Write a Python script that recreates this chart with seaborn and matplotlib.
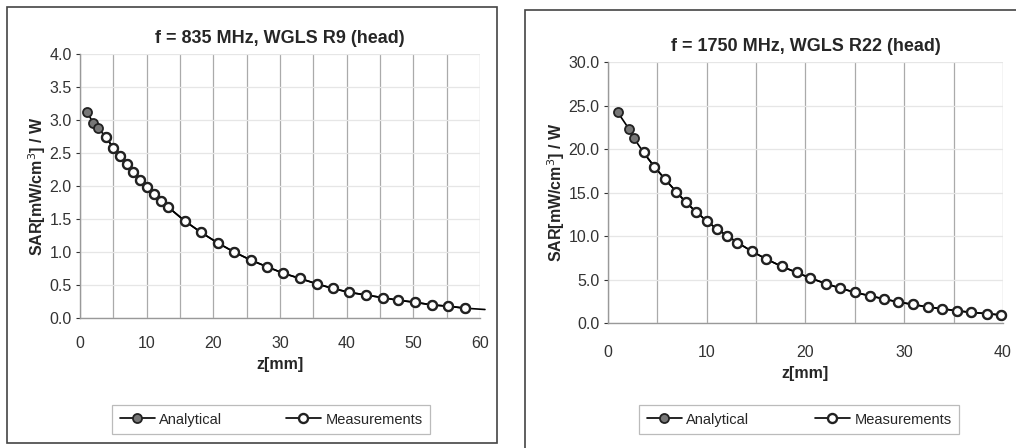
import seaborn as sns
import matplotlib.pyplot as plt
from matplotlib.patches import Rectangle

# Left panel: f = 835 MHz, WGLS R9 (head)
z_835 = [1, 2, 2.75, 3.9, 5, 6, 7, 8, 9, 10, 11.1, 12.1, 13.25, 15.75, 18.15, 20.65,
         23.15, 25.6, 28, 30.5, 33, 35.5, 37.9, 40.4, 42.9, 45.4, 47.75, 50.25, 52.75,
         55.25, 57.75, 60.75]
analytical_835 = [3.13, 2.96, 2.88, 2.74, 2.58, 2.46, 2.34, 2.22, 2.10, 1.98, 1.88, 1.78,
                  1.68, 1.47, 1.30, 1.14, 1.00, 0.88, 0.78, 0.68, 0.60, 0.52, 0.45, 0.39,
                  0.35, 0.31, 0.27, 0.24, 0.20, 0.18, 0.15, 0.13]
meas_z_835 = z_835[3:31]
meas_835 = analytical_835[3:31]

# Right panel: f = 1750 MHz, WGLS R22 (head)
z_1750 = [1.0, 2.1, 2.6, 3.6, 4.7, 5.8, 6.9, 7.9, 8.9, 10.0, 11.05, 12.06, 13.1, 14.6,
          16.05, 17.6, 19.1, 20.5, 22.1, 23.5, 25.0, 26.5, 28.0, 29.4, 30.85, 32.4, 33.8,
          35.3, 36.8, 38.4, 39.8]
analytical_1750 = [24.2, 22.35, 21.3, 19.6, 17.96, 16.5, 15.1, 13.87, 12.8, 11.73, 10.78,
                   10.05, 9.25, 8.22, 7.34, 6.5, 5.81, 5.16, 4.51, 4.01, 3.52, 3.13, 2.75,
                   2.41, 2.14, 1.83, 1.64, 1.41, 1.22, 1.07, 0.92]
meas_z_1750 = z_1750[3:]
meas_1750 = analytical_1750[3:]

sns.set_theme(style="white")
plt.rcParams['font.family'] = ['Liberation Sans', 'DejaVu Sans']

fig = plt.figure(figsize=(10.16, 4.48), dpi=100)
ax1 = fig.add_axes([0.0787, 0.290, 0.3937, 0.589])
ax2 = fig.add_axes([0.5984, 0.279, 0.3888, 0.5826])

panels = [
    (ax1, z_835, analytical_835, meas_z_835, meas_835, 'f = 835 MHz, WGLS R9 (head)',
     (0, 60), 4.0, 0.5, 31, 10),
    (ax2, z_1750, analytical_1750, meas_z_1750, meas_1750, 'f = 1750 MHz, WGLS R22 (head)',
     (0, 40), 30.0, 5.0, 31, 13),
]

for ax, z, ana, mz, mv, title, xl, ymax, ystep, nmark, xpad in panels:
    sns.lineplot(x=z, y=ana, ax=ax, color='black', lw=1.2, marker='o', markersize=6.5,
                 markerfacecolor='#777777', markeredgecolor='#222222', markeredgewidth=1.3,
                 markevery=list(range(nmark)), label='Analytical', clip_on=False)
    sns.lineplot(x=mz, y=mv, ax=ax, color='black', lw=1.2, marker='o', markersize=6.5,
                 markerfacecolor='white', markeredgecolor='#222222', markeredgewidth=1.7,
                 label='Measurements', clip_on=False)
    ax.set_xlim(*xl)
    ax.set_ylim(0, ymax)
    ax.set_xticks(range(xl[0], xl[1] + 1, 10))
    ax.set_xticks(range(5, xl[1] + 1, 10), minor=True)
    n = int(round(ymax / ystep))
    ax.set_yticks([i * ystep for i in range(n + 1)])
    ax.yaxis.set_major_formatter(plt.FormatStrFormatter('%.1f'))
    ax.grid(True, which='both', axis='x', color='#aaaaaa', lw=0.9)
    ax.grid(True, which='major', axis='y', color='#e6e6e6', lw=0.9)
    for s in ['top', 'right']:
        ax.spines[s].set_visible(False)
    for s in ['left', 'bottom']:
        ax.spines[s].set_color('#999999')
        ax.spines[s].set_linewidth(1.0)
    ax.tick_params(axis='both', labelsize=11.5, colors='#333333', length=3, width=0.8,
                   direction='out', left=True, bottom=False, pad=3)
    ax.tick_params(axis='x', pad=xpad)
    ax.set_title(title, fontsize=13, fontweight='bold', pad=8)
    ax.set_xlabel('z[mm]', fontsize=11.5, fontweight='bold', labelpad=4)
    ax.set_ylabel('SAR[mW/cm$^3$] / W', fontsize=11.5, fontweight='bold', labelpad=1)
    ax.legend().remove()

# legends below each panel
for ax, x0, w in [(ax1, 105 / 1016, 332 / 1016), (ax2, 632 / 1016, 334 / 1016)]:
    h, lab = ax.get_legend_handles_labels()
    leg = ax.legend(h, lab, ncol=2, loc='center', mode='expand',
                    bbox_to_anchor=(x0, 1 - 437 / 448, w, 35 / 448),
                    bbox_transform=fig.transFigure, fontsize=10.5, frameon=True,
                    fancybox=False, edgecolor='#aaaaaa', handlelength=2.4,
                    borderpad=0.5, handletextpad=0.3)
    leg.get_frame().set_linewidth(0.9)

# panel borders
fig.patches.append(Rectangle((7 / 1016, 1 - 443 / 448), 490 / 1016, 436 / 448,
                             transform=fig.transFigure, fill=False, ec='#444444', lw=1.2))
fig.patches.append(Rectangle((525 / 1016, -0.01), 500 / 1016, 1 - 10 / 448 + 0.01,
                             transform=fig.transFigure, fill=False, ec='#444444', lw=1.2))

fig.savefig('out.png', dpi=100)
